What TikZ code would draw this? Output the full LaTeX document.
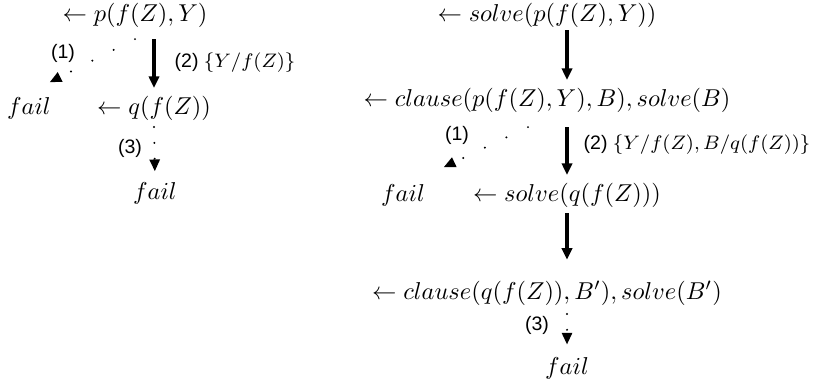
\documentclass[tikz,border=0pt]{standalone}
\usepackage{amsmath,amssymb}
\usepackage{fontspec}
\setsansfont{Liberation Sans}
\usepackage{tikz}
\usetikzlibrary{arrows.meta, calc}

\newcommand{\subst}[1]{{\fontsize{8.5pt}{10pt}\selectfont$\{#1\}$}}

\tikzset{
  goal/.style={inner sep=1pt},
  branchlbl/.style={font=\sffamily\footnotesize, inner sep=0.5pt},
  derive/.style={line width=1.5pt, -{Triangle[length=4.8pt,width=4.2pt]}},
  failarc/.style={line width=0.9pt, line cap=round, dash pattern=on 0pt off 6.5pt,
                  -{Triangle[length=4.8pt,width=4.2pt]}},
  sparse/.style={dash pattern=on 0pt off 9.8pt}
}

\begin{document}
\begin{tikzpicture}[x=0.41pt, y=-0.41pt]
\useasboundingbox (0,0) rectangle (822,383);

% ---- Left tree: object level ----
\node[goal] (lp)     at (135,15)  {$\leftarrow p(f(Z),Y)$};
\node[goal] (lfailA) at (29,108)  {$fail$};
\node[goal] (lq)     at (154,108) {$\leftarrow q(f(Z))$};
\node[goal] (lfailB) at (155,193) {$fail$};

\draw[failarc, sparse] ($(lp.south)+(0,9)$) -- ($(lfailA.north east)+(-4,-12)$);
\node[branchlbl] (l1) at (63,53) {(1)};
\draw[derive, shorten <=3.7pt, shorten >=2pt] (lp.south -| lq.north) -- (lq.north);
\node[branchlbl, anchor=west] (l2) at (173,63) {(2) \subst{Y/f(Z)}};
\draw[failarc, shorten <=1.6pt, shorten >=3.3pt] (lq.south) -- (lfailB.north);
\node[branchlbl] (l3) at (130,148) {(3)};

% ---- Right tree: meta-interpreter ----
\node[goal] (rsolveP)  at (547,15)  {$\leftarrow solve(p(f(Z),Y))$};
\node[goal] (rclauseP) at (547,100) {$\leftarrow clause(p(f(Z),Y),B),solve(B)$};
\node[goal] (rfailA)   at (403,195) {$fail$};
\node[goal] (rsolveQ)  at (567,195) {$\leftarrow solve(q(f(Z)))$};
\node[goal] (rclauseQ) at (547,293) {$\leftarrow clause(q(f(Z)),B'),solve(B')$};
\node[goal] (rfailB)   at (567,368) {$fail$};

\draw[derive, shorten >=2pt] (rsolveP.south -| rfailB.north) -- (rclauseP.north -| rfailB.north);
\draw[failarc, sparse] ($(rclauseP.south)+(-19,12)$) -- ($(rfailA.north east)+(16,-14)$);
\node[branchlbl] (r1) at (457,135) {(1)};
\draw[derive, shorten <=5pt, shorten >=2pt] (rclauseP.south -| rfailB.north) -- (rsolveQ.north -| rfailB.north);
\node[branchlbl, anchor=west] (r2) at (582,145) {(2) \subst{Y/f(Z),B/q(f(Z))}};
\draw[derive, shorten <=1.2pt, shorten >=7.4pt] (rsolveQ.south -| rfailB.north) -- (rclauseQ.north -| rfailB.north);
\draw[failarc, shorten >=4pt] ($(rclauseQ.south -| rfailB.north)+(0,-10)$) -- (rfailB.north);
\node[branchlbl] (r3) at (537,325) {(3)};

\end{tikzpicture}
\end{document}
